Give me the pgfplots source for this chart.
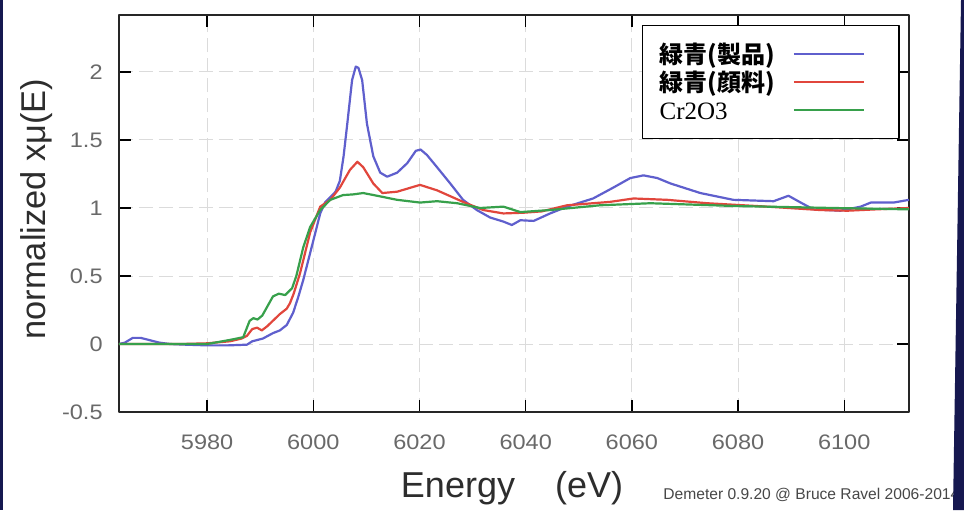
\documentclass[border=0pt]{standalone}
\usepackage{pgfplots}
\pgfplotsset{compat=1.18}
\usepackage{fontspec}
\setmainfont{Liberation Sans}
\newfontfamily\cjk{Noto Sans CJK JP}
\newfontfamily\serifb{Liberation Serif}
\newfontfamily\tickfont{Liberation Sans}[FakeStretch=1.12]
\definecolor{cblue}{RGB}{95,95,205}
\definecolor{cred}{RGB}{225,70,60}
\definecolor{cgreen}{RGB}{55,160,75}
\definecolor{navy}{RGB}{22,24,80}
\definecolor{tickgray}{RGB}{105,105,105}
\definecolor{labgray}{RGB}{45,45,45}
\begin{document}
\begin{tikzpicture}[x=1pt,y=1pt]
\useasboundingbox (0,0) rectangle (482,255);
\fill[white] (0,0) rectangle (482,255);
\begin{axis}[
  at={(59.5pt,49pt)}, anchor=south west,
  scale only axis, width=395pt, height=198.5pt,
  xmin=5963.4, xmax=6112.2, ymin=-0.5, ymax=2.419,
  xtick={5980,6000,6020,6040,6060,6080,6100},
  xticklabels={5980,6000,6020,6040,6060,6080,6100},
  ytick={-0.5,0,0.5,1,1.5,2},
  yticklabels={-0.5,0,0.5,1,1.5,2},
  tick label style={font=\tickfont\fontsize{10.5}{12}\selectfont, text=tickgray},
  xticklabel style={anchor=north, inner sep=0pt, yshift=-11pt},
  yticklabel style={anchor=east, inner sep=0pt, xshift=-8pt},
  tick align=inside, major tick length=6pt,
  tick style={black, line width=0.7pt},
  axis line style={black!85, line width=0.8pt},
  grid=major,
  major grid style={gray!28, dash pattern=on 7pt off 3pt, line width=0.5pt},
  xlabel={Energy\hspace{20pt}(eV)},
  ylabel={normalized xμ(E)},
  every axis x label/.style={at={(axis description cs:0.4975,-0.2146)}, anchor=base, font=\fontsize{18}{20}\selectfont, text=labgray},
  every axis y label/.style={at={(axis description cs:-0.1038,0.511)}, rotate=90, anchor=center, font=\fontsize{17.2}{20}\selectfont, text=labgray},
  legend plot pos=right,
  legend cell align=left,
  legend image code/.code={\draw[#1] (0pt,0pt) -- (35pt,0pt); \path (43.5pt,0pt);},
  legend style={at={(axis description cs:0.662,0.9748)}, anchor=north west,
    draw=black, line width=0.6pt, fill=white,
    inner xsep=8.5pt, inner ysep=8.75pt,
    row sep=3pt, column sep=9pt,
    nodes={inner sep=0pt, text height=10pt, text depth=1pt}},
  line join=round,
]
\addplot[cblue, line width=1.1pt] coordinates {
(5963.4,0) (5964.5,0.01) (5966.0,0.045) (5967.5,0.045) (5969.0,0.03) (5971.0,0.01)
(5973.0,0.0) (5976,-0.005) (5980,-0.01) (5984,-0.01) (5987.5,-0.005) (5988.5,0.02)
(5990.5,0.04) (5992.4,0.08) (5993.7,0.1) (5995.0,0.14) (5996.2,0.23) (5997.2,0.35)
(5998.1,0.47) (6000.0,0.76) (6001.3,0.96) (6002.2,1.04) (6003.2,1.08) (6004.2,1.12)
(6005.0,1.2) (6005.7,1.38) (6006.4,1.62) (6007.3,1.94) (6008.0,2.04) (6008.5,2.03)
(6009.2,1.94) (6010.1,1.62) (6011.3,1.38) (6012.6,1.26) (6013.9,1.23) (6015.8,1.26)
(6017.7,1.33) (6019.3,1.42) (6020.2,1.43) (6021.4,1.39) (6023.3,1.30) (6025.8,1.18)
(6028.2,1.06) (6030.8,0.985) (6033.3,0.93) (6035.8,0.90) (6037.4,0.875) (6039.0,0.91)
(6041.5,0.905) (6044.6,0.96) (6047.8,1.01) (6052.7,1.07) (6056.5,1.15) (6059.7,1.22)
(6062.2,1.24) (6064.8,1.22) (6067.3,1.18) (6072.9,1.11) (6079.1,1.06) (6086.7,1.05)
(6089.5,1.09) (6091.8,1.04) (6094.2,0.99) (6099.3,0.98) (6103.1,1.01) (6105.0,1.04)
(6109.3,1.04) (6112.2,1.06)
};
\addlegendentry{{\cjk\bfseries\fontsize{12}{14}\selectfont 緑青(製品)}}
\addplot[cred, line width=1.1pt] coordinates {
(5963.4,0) (5975,0) (5980,0.005) (5984.3,0.02) (5986.5,0.04) (5987.5,0.06)
(5988.5,0.11) (5989.4,0.12) (5990.3,0.10) (5991.3,0.13) (5993.7,0.22) (5995.0,0.26)
(5995.6,0.30) (5996.3,0.37) (5997.5,0.52) (5999.4,0.82) (6001.3,1.01) (6003.2,1.06)
(6005.0,1.15) (6006.9,1.28) (6008.3,1.34) (6009.4,1.30) (6011.3,1.18) (6013.0,1.11)
(6015.8,1.12) (6020.1,1.17) (6023.3,1.13) (6028.2,1.045) (6032.0,0.985) (6035.8,0.96)
(6039.5,0.965) (6043,0.975) (6047.8,1.02) (6055.9,1.045) (6060.3,1.07) (6066.7,1.06)
(6074.2,1.035) (6085.5,1.01) (6095.5,0.985) (6100.6,0.98) (6106,0.99) (6112.2,1.0)
};
\addlegendentry{{\cjk\bfseries\fontsize{12}{14}\selectfont 緑青(顔料)}}
\addplot[cgreen, line width=1.1pt] coordinates {
(5963.4,0) (5980,0.0) (5984.3,0.03) (5986.8,0.05) (5988.0,0.17) (5988.7,0.19)
(5989.5,0.18) (5990.4,0.21) (5992.4,0.35) (5993.5,0.37) (5994.7,0.36) (5996.0,0.41)
(5996.8,0.5) (5998.1,0.71) (5999.4,0.86) (6001.3,0.985) (6003.2,1.06) (6005.6,1.095)
(6007.5,1.10) (6009.4,1.11) (6012.0,1.09) (6015.8,1.06) (6020.1,1.04) (6023.3,1.05)
(6027.1,1.035) (6031.4,1.0) (6035.8,1.01) (6039.0,0.97) (6044.6,0.985) (6054.0,1.02)
(6063.5,1.035) (6079.1,1.015) (6097.9,1.0) (6112.2,0.99)
};
\addlegendentry{{\serifb\fontsize{12.5}{14}\selectfont Cr2O3}}
\end{axis}
\node[anchor=base west, inner sep=0pt, font=\fontsize{7.8}{9}\selectfont, text=black!72] at (331.5,5.5) {Demeter 0.9.20 @ Bruce Ravel 2006-2014};
\fill[navy] (0,0) rectangle (1.6,255);
\fill[navy] (480.5,255) -- (490,255) -- (490,0) -- (476.5,0) -- cycle;
\end{tikzpicture}
\end{document}
